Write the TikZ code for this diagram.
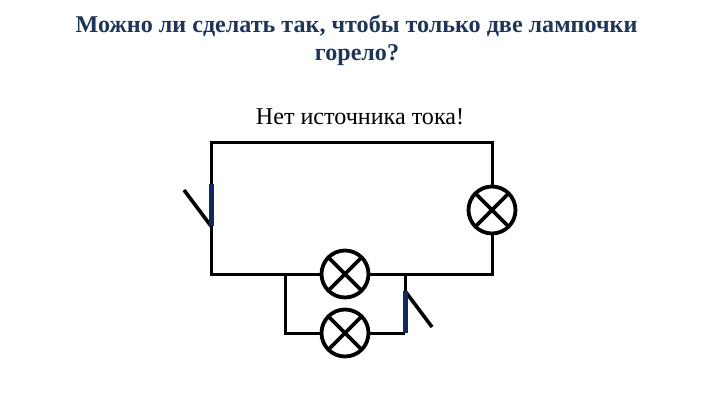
\documentclass[tikz,border=0pt]{standalone}
\usepackage{fontspec}
\setmainfont{Liberation Serif}
\definecolor{navy}{HTML}{1F3558}
\definecolor{swblue}{HTML}{0F2A63}
\tikzset{
  wire/.style={line width=3pt,black},
  arm/.style={line width=3.6pt,black},
  contact/.style={line width=5pt,swblue},
  lamp/.style={circle,draw=black,line width=3.8pt,minimum size=47pt,inner sep=0pt,outer sep=0pt},
  cross/.style={line width=3.8pt,black},
  title/.style={font=\bfseries\fontsize{24.1pt}{34pt}\selectfont,text=navy,align=center,anchor=center},
  note/.style={font=\fontsize{24.1pt}{28pt}\selectfont,text=black,anchor=center}
}
\begin{document}
\begin{tikzpicture}[x=1pt,y=-1pt]
\useasboundingbox (0,0) rectangle (720,405);
\node[title] (t1) at (356.5,26) {Можно ли сделать так, чтобы только две лампочки};
\node[title] (t2) at (357,55.5) {горело?};
\node[note] (t3) at (360,117) {Нет источника тока!};
\node[lamp] (L1) at (492,210) {};
\node[lamp] (L2) at (345,274) {};
\node[lamp] (L3) at (345,333) {};
\foreach \n in {L1,L2,L3}{
  \draw[cross] (\n.45) -- (\n.225);
  \draw[cross] (\n.135) -- (\n.315);
}
\coordinate (tl) at (211,142);
\coordinate (tr) at (492,142);
\coordinate (bl) at (211,274);
\coordinate (br) at (492,274);
\coordinate (ja) at (285,274);
\coordinate (jb) at (405,274);
\coordinate (ca) at (285,333);
\coordinate (cb) at (405,333);
\coordinate (s1a) at (211,184);
\coordinate (s1b) at (211,226);
\coordinate (s1c) at (184,190);
\coordinate (s2a) at (405,291);
\coordinate (s2c) at (432,327);
\draw[wire,line cap=round] (s1a) -- (tl) -- (tr) -- (L1.north);
\draw[wire] (L1.south) -- (br) -- (L2.east);
\draw[wire] (L2.west) -- (bl) -- (s1b);
\draw[wire] (ja) -- (ca) -- (L3.west);
\draw[wire] (L3.east) -- (cb);
\draw[wire] (jb) -- (s2a);
\draw[arm] (s1c) -- (s1b);
\draw[arm] (s2a) -- (s2c);
\draw[contact] (s1a) -- (s1b);
\draw[contact] (s2a) -- (cb);
\end{tikzpicture}
\end{document}
